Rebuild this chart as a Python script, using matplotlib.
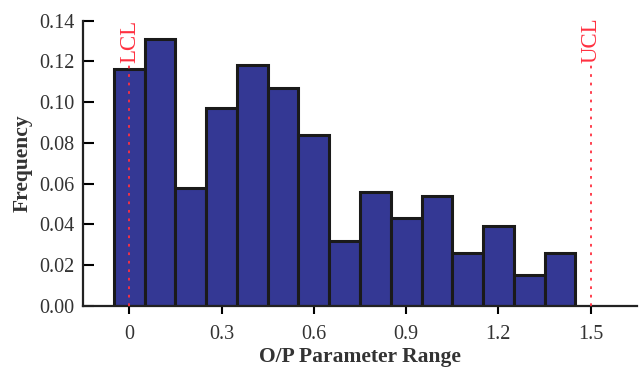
import matplotlib
matplotlib.use('Agg')
import matplotlib.pyplot as plt
import numpy as np

plt.rcParams['font.family'] = ['Liberation Serif', 'DejaVu Serif']

centres = [0.0, 0.1, 0.2, 0.3, 0.4, 0.5, 0.6, 0.7, 0.8, 0.9, 1.0, 1.1, 1.2, 1.3, 1.4]
freq = [0.116, 0.131, 0.058, 0.097, 0.118, 0.107, 0.084, 0.032,
        0.056, 0.043, 0.054, 0.026, 0.039, 0.015, 0.026]
lcl = 0.0
ucl = 1.5
xtick_vals = [0, 0.3, 0.6, 0.9, 1.2, 1.5]
xtick_labels = ['0', '0.3', '0.6', '0.9', '1.2', '1.5']

fig = plt.figure(figsize=(6.4, 3.73), dpi=100)
ax = fig.add_axes([0.13, 0.18, 0.865, 0.765])

ax.bar(centres, freq, width=0.1, color='#343894', edgecolor='#1a1a1a', linewidth=2.2)

punainen = '#ff3040'
ax.plot([lcl, lcl], [0, 0.118], ls=(0, (1.5, 3.2)), color=punainen, lw=1.3, zorder=3)
ax.plot([ucl, ucl], [0, 0.118], ls=(0, (1.5, 3.2)), color=punainen, lw=1.3, zorder=3)
ax.text(lcl, 0.1405, 'LCL', rotation=90, color=punainen, fontsize=16.5,
        ha='center', va='top')
ax.text(ucl, 0.1415, 'UCL', rotation=90, color=punainen, fontsize=16.5,
        ha='center', va='top')

ax.set_xlim(-0.15, 1.65)
ax.set_ylim(0, 0.14)
ax.set_xticks(xtick_vals, xtick_labels)
ax.set_yticks(np.arange(0, 0.141, 0.02))
ax.set_yticklabels(['%.2f' % v for v in np.arange(0, 0.141, 0.02)])

for s in ('top', 'right'):
    ax.spines[s].set_visible(False)
for s in ('left', 'bottom'):
    ax.spines[s].set_linewidth(1.6)
    ax.spines[s].set_color('#222222')
ax.tick_params(axis='y', direction='in', length=8, width=1.5, labelsize=14.5, pad=6)
ax.tick_params(axis='x', direction='out', length=6, width=1.5, labelsize=14.5, pad=8)

ax.set_xlabel('O/P Parameter Range', fontsize=15.5, fontweight='bold', color='#333333', labelpad=2)
ax.set_ylabel('Frequency', fontsize=15.5, fontweight='bold', color='#333333', labelpad=5)
for lab in ax.get_xticklabels() + ax.get_yticklabels():
    lab.set_color('#333333')

fig.savefig('out.png', dpi=100)
